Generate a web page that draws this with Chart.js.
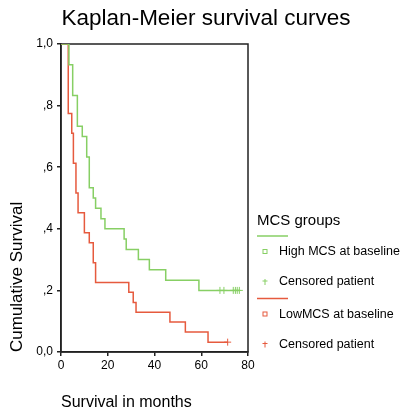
<!DOCTYPE html>
<html><head><meta charset="utf-8">
<script src="https://cdn.jsdelivr.net/npm/chart.js@4/dist/chart.umd.min.js"></script>
<style>html,body{margin:0;padding:0;background:#fff;overflow:hidden}#wrap{position:relative;width:407px;height:414px}</style>
</head><body><div id="wrap"><canvas id="c" width="407" height="414"></canvas></div>
<script>
const chartTitle = "Kaplan-Meier survival curves";
const xAxisTitle = "Survival in months";
const yAxisTitle = "Cumulative Survival";
const xTicks = [0, 20, 40, 60, 80];
const yTicks = [0, 0.2, 0.4, 0.6, 0.8, 1.0];
const yTickLabels = ["0,0", ",2", ",4", ",6", ",8", "1,0"];
const groupTitle = "MCS groups";
const groupNames = ["High MCS at baseline", "LowMCS at baseline"];
const censorLabel = "Censored patient";

// High MCS at baseline
const highTimes = [0, 3.4, 5.0, 7.0, 9.1, 11.0, 12.1, 13.8, 14.8, 17.1, 18.8, 27.0, 27.9, 33.1, 37.8, 44.8, 59.0, 76.3];
const highSurv  = [1.0, 0.933, 0.833, 0.733, 0.700, 0.633, 0.533, 0.500, 0.467, 0.433, 0.400, 0.367, 0.333, 0.300, 0.267, 0.233, 0.200, 0.200];
const highCensored = [68.0, 69.7, 73.7, 74.6, 75.4, 76.3];
// Low MCS at baseline
const lowTimes = [0, 3.1, 4.6, 5.3, 6.4, 7.3, 10.0, 12.1, 13.8, 14.8, 29.0, 30.9, 32.1, 46.6, 53.2, 62.9, 71.3];
const lowSurv  = [1.0, 0.774, 0.710, 0.613, 0.516, 0.452, 0.387, 0.355, 0.290, 0.226, 0.194, 0.161, 0.129, 0.097, 0.065, 0.032, 0.032];
const lowCensored = [71.3];

const GREEN = '#87cf64';
const RED = '#e65a3e';
const FONT = '"Liberation Sans", Arial, sans-serif';

function steps(times, surv){ return times.map((t,i)=>({x:t, y:surv[i]})); }
function survAt(times, surv, t){ let s = surv[0]; for(let i=0;i<times.length;i++){ if(times[i]<=t) s = surv[i]; } return s; }
function censorPts(ct, times, surv){ return ct.map(t=>({x:t, y:survAt(times, surv, t)})); }

const framePlugin = {
  id:'frame',
  beforeDatasetsDraw(chart){
    const {ctx, chartArea:a} = chart;
    ctx.save();
    ctx.strokeStyle = '#222'; ctx.lineWidth = 1.5;
    ctx.strokeRect(a.left, a.top, a.right - a.left, a.bottom - a.top);
    ctx.restore();
  }
};

const legendPlugin = {
  id:'kmLegend',
  afterDraw(chart){
    const ctx = chart.ctx;
    const colors = [GREEN, RED];
    ctx.save();
    ctx.fillStyle = '#000';
    ctx.font = '15px ' + FONT;
    ctx.textAlign = 'left';
    ctx.textBaseline = 'alphabetic';
    ctx.fillText(groupTitle, 257, 225);
    ctx.font = '12.5px ' + FONT;
    ctx.textBaseline = 'middle';
    for (let i = 0; i < 2; i++) {
      const by = 236 + i * 62.5;
      const c = colors[i];
      ctx.strokeStyle = c; ctx.lineWidth = 1.5;
      ctx.beginPath(); ctx.moveTo(257, by); ctx.lineTo(288, by); ctx.stroke();
      ctx.lineWidth = 1;
      ctx.strokeRect(263, by + 13.5, 4, 4);
      ctx.beginPath();
      ctx.moveTo(265, by + 43); ctx.lineTo(265, by + 49);
      ctx.moveTo(262.5, by + 45); ctx.lineTo(267.5, by + 45);
      ctx.stroke();
      ctx.fillStyle = '#000';
      ctx.fillText(groupNames[i], 279, by + 16);
      ctx.fillText(censorLabel, 279, by + 46);
    }
    ctx.restore();
  }
};

new Chart(document.getElementById('c'), {
  type: 'line',
  data: {
    datasets: [
      {label: groupNames[0], data: steps(highTimes, highSurv), borderColor: GREEN, borderWidth: 1.5, stepped: true, pointRadius: 0, fill: false},
      {label: groupNames[1], data: steps(lowTimes, lowSurv), borderColor: RED, borderWidth: 1.5, stepped: true, pointRadius: 0, fill: false},
      {type: 'scatter', label: censorLabel, data: censorPts(highCensored, highTimes, highSurv), borderColor: GREEN, pointStyle: 'cross', pointRadius: 3.5, borderWidth: 1, showLine: false},
      {type: 'scatter', label: censorLabel, data: censorPts(lowCensored, lowTimes, lowSurv), borderColor: RED, pointStyle: 'cross', pointRadius: 3.5, borderWidth: 1, showLine: false}
    ]
  },
  options: {
    responsive: false,
    animation: false,
    devicePixelRatio: 1,
    layout: {padding: {left: 5, right: 0, top: 0, bottom: 0}},
    plugins: {
      legend: {display: false},
      tooltip: {enabled: false},
      title: {display: true, text: chartTitle, color: '#000', font: {size: 22.5, weight: 'normal', family: FONT, lineHeight: 1.2}, padding: {top: 5.5, bottom: 11.5}}
    },
    scales: {
      x: {
        type: 'linear', position: 'bottom', min: 0, max: 80,
        afterBuildTicks: s => { s.ticks = xTicks.map(v => ({value: v})); },
        afterFit: s => { s.height = 62; },
        ticks: {color: '#000', font: {size: 12, family: FONT}, padding: 2, maxRotation: 0, autoSkip: false, callback: v => String(v)},
        grid: {drawOnChartArea: false, drawTicks: true, tickLength: 4, color: '#222', lineWidth: 1.5},
        border: {display: true, color: '#222', width: 1.5},
        title: {display: true, text: xAxisTitle, align: 'start', color: '#000', font: {size: 16, family: FONT, lineHeight: 1.2}, padding: {top: 0, bottom: 1.5}}
      },
      y: {
        type: 'linear', position: 'left', min: 0, max: 1,
        afterBuildTicks: s => { s.ticks = yTicks.map(v => ({value: v})); },
        afterFit: s => { s.width = 56; },
        ticks: {color: '#000', font: {size: 12, family: FONT}, padding: 4, callback: v => yTickLabels[yTicks.findIndex(t => Math.abs(t - v) < 1e-6)]},
        grid: {drawOnChartArea: false, drawTicks: true, tickLength: 4, color: '#222', lineWidth: 1.5},
        border: {display: true, color: '#222', width: 1.5},
        title: {display: true, text: yAxisTitle, align: 'start', color: '#000', font: {size: 17, family: FONT, lineHeight: 1.2}, padding: {top: 2.3, bottom: 0}}
      },
      yr: {
        type: 'linear', position: 'right', display: true, min: 0, max: 1,
        afterFit: s => { s.width = 159; },
        ticks: {display: false}, grid: {display: false}, border: {display: false}
      }
    }
  },
  plugins: [framePlugin, legendPlugin]
});
</script>
</body></html>
